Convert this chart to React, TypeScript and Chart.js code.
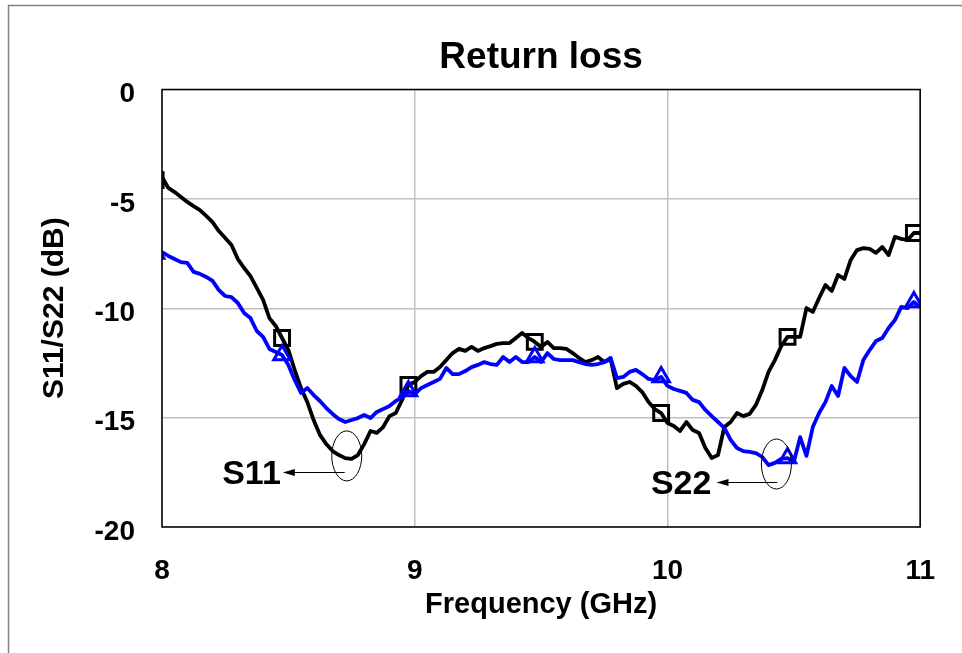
import { useEffect, useRef } from "react";
import { Chart, registerables } from "chart.js";

Chart.register(...registerables);

// Frequency sweep (GHz); first point lies just left of the axis and is clipped
const FREQ_GHZ = [
  7.975, 8.0, 8.025, 8.05, 8.075, 8.1, 8.125, 8.15, 8.175, 8.2,
  8.225, 8.25, 8.275, 8.3, 8.325, 8.35, 8.375, 8.4, 8.425, 8.45,
  8.475, 8.5, 8.525, 8.55, 8.575, 8.6, 8.625, 8.65, 8.675, 8.7,
  8.725, 8.75, 8.775, 8.8, 8.825, 8.85, 8.875, 8.9, 8.925, 8.95,
  8.975, 9.0, 9.025, 9.05, 9.075, 9.1, 9.125, 9.15, 9.175, 9.2,
  9.225, 9.25, 9.275, 9.3, 9.325, 9.35, 9.375, 9.4, 9.425, 9.45,
  9.475, 9.5, 9.525, 9.55, 9.575, 9.6, 9.625, 9.65, 9.675, 9.7,
  9.725, 9.75, 9.775, 9.8, 9.825, 9.85, 9.875, 9.9, 9.925, 9.95,
  9.975, 10.0, 10.025, 10.05, 10.075, 10.1, 10.125, 10.15, 10.175, 10.2,
  10.225, 10.25, 10.275, 10.3, 10.325, 10.35, 10.375, 10.4, 10.425, 10.45,
  10.475, 10.5, 10.525, 10.55, 10.575, 10.6, 10.625, 10.65, 10.675, 10.7,
  10.725, 10.75, 10.775, 10.8, 10.825, 10.85, 10.875, 10.9, 10.925, 10.95,
  10.975, 11.0,
];

const S11_DB = [
  -4.14,
  -4.0, -4.5, -4.69, -4.91, -5.14, -5.33, -5.51, -5.78, -6.06, -6.47,
  -6.79, -7.11, -7.75, -8.16, -8.53, -9.07, -9.62, -10.45, -10.81, -11.36,
  -11.91, -12.82, -13.65, -14.29, -15.11, -15.79, -16.21, -16.53, -16.71, -16.85,
  -16.89, -16.71, -16.21, -15.61, -15.7, -15.43, -14.93, -14.79, -14.19, -13.51,
  -13.37, -13.1, -12.91, -12.91, -12.69, -12.37, -12.05, -11.86, -11.95, -11.77,
  -11.95, -11.82, -11.73, -11.63, -11.59, -11.59, -11.36, -11.13, -11.36, -11.54,
  -11.77, -11.54, -11.82, -11.82, -11.86, -12.05, -12.27, -12.46, -12.37, -12.23,
  -12.46, -12.32, -13.65, -13.46, -13.37, -13.55, -13.83, -14.29, -14.61, -14.79,
  -15.25, -15.38, -15.61, -15.2, -15.57, -15.7, -16.39, -16.85, -16.71, -15.43,
  -15.2, -14.79, -14.93, -14.83, -14.42, -13.74, -12.91, -12.37, -11.73, -11.31,
  -11.31, -11.31, -9.99, -10.17, -9.53, -8.94, -9.21, -8.48, -8.66, -7.79,
  -7.34, -7.25, -7.29, -7.47, -7.2, -7.57, -6.74, -6.83, -6.88, -6.56,
  -6.56,
];

const S22_DB = [
  -7.5,
  -7.43, -7.61, -7.75, -7.89, -7.93, -8.34, -8.43, -8.57, -8.75, -9.17,
  -9.44, -9.49, -9.76, -10.22, -10.45, -11.04, -11.31, -11.86, -12.0, -12.14,
  -12.59, -13.28, -13.87, -13.65, -13.97, -14.24, -14.56, -14.83, -15.06, -15.2,
  -15.11, -15.02, -14.88, -15.02, -14.74, -14.61, -14.47, -14.24, -14.06, -13.78,
  -13.92, -13.65, -13.51, -13.37, -13.23, -12.73, -13.01, -13.01, -12.87, -12.69,
  -12.59, -12.46, -12.55, -12.59, -12.23, -12.46, -12.23, -12.46, -12.46, -12.23,
  -12.46, -12.05, -12.32, -12.37, -12.37, -12.37, -12.46, -12.55, -12.59, -12.55,
  -12.46, -12.27, -13.19, -13.14, -12.91, -12.82, -13.01, -13.23, -13.28, -13.14,
  -13.55, -13.69, -13.78, -13.87, -14.19, -14.29, -14.65, -14.93, -15.2, -15.47,
  -16.02, -16.39, -16.53, -16.57, -16.62, -16.8, -17.17, -17.07, -16.89, -16.85,
  -17.03, -15.89, -16.75, -15.43, -14.79, -14.29, -13.55, -14.01, -12.73, -13.1,
  -13.37, -12.37, -11.91, -11.5, -11.36, -10.9, -10.54, -9.94, -9.99, -9.71,
  -9.94,
];

const MARKER_FREQS = [7.975, 8.475, 8.975, 9.475, 9.975, 10.475, 10.975];

const X_MIN = 8;
const X_MAX = 11;
const X_STEP = 1;
const Y_MIN = -20;
const Y_MAX = 0;
const Y_STEP = 5;

const TITLE = "Return loss";
const X_TITLE = "Frequency (GHz)";
const Y_TITLE = "S11/S22 (dB)";

// Callout annotations in data coordinates
const CALLOUTS = [
  { label: "S11", ellipseX: 8.731, ellipseY: -16.75, arrowFrom: 8.723, arrowTo: 8.478, arrowY: -17.49, textX: 8.47, textY: -17.62 },
  { label: "S22", ellipseX: 10.431, ellipseY: -17.12, arrowFrom: 10.435, arrowTo: 10.194, arrowY: -17.94, textX: 10.174, textY: -18.06 },
];

const FONT = "'Liberation Sans', Arial, Helvetica, sans-serif";

const isMarker = (i: number) =>
  MARKER_FREQS.some((f) => Math.abs(f - FREQ_GHZ[i]) < 1e-6);

const framePlugin = {
  id: "frame",
  beforeDraw(chart: any) {
    const { ctx, width, height } = chart;
    ctx.save();
    ctx.fillStyle = "#ffffff";
    ctx.fillRect(0, 0, width, height);
    ctx.strokeStyle = "#808080";
    ctx.lineWidth = 1.5;
    ctx.beginPath();
    ctx.moveTo(8.5, height);
    ctx.lineTo(8.5, 5.5);
    ctx.lineTo(width, 5.5);
    ctx.stroke();
    ctx.restore();
  },
  afterDraw(chart: any) {
    const { ctx, chartArea } = chart;
    const xs = chart.scales.x;
    const ys = chart.scales.y;
    ctx.save();
    ctx.strokeStyle = "#000000";
    ctx.lineWidth = 1.5;
    ctx.strokeRect(chartArea.left, chartArea.top, chartArea.right - chartArea.left, chartArea.bottom - chartArea.top);

    CALLOUTS.forEach((c) => {
      const ex = xs.getPixelForValue(c.ellipseX);
      const ey = ys.getPixelForValue(c.ellipseY);
      ctx.lineWidth = 1;
      ctx.strokeStyle = "#000";
      ctx.beginPath();
      ctx.ellipse(ex, ey, 15, 25, 0, 0, Math.PI * 2);
      ctx.stroke();

      const a0 = xs.getPixelForValue(c.arrowFrom);
      const a1 = xs.getPixelForValue(c.arrowTo);
      const ay = Math.round(ys.getPixelForValue(c.arrowY)) + 0.5;
      ctx.beginPath();
      ctx.moveTo(a0, ay);
      ctx.lineTo(a1 + 8, ay);
      ctx.stroke();
      ctx.fillStyle = "#000";
      ctx.beginPath();
      ctx.moveTo(a1, ay);
      ctx.lineTo(a1 + 12, ay - 3.5);
      ctx.lineTo(a1 + 12, ay + 3.5);
      ctx.closePath();
      ctx.fill();

      ctx.font = `bold 34px ${FONT}`;
      ctx.textAlign = "right";
      ctx.textBaseline = "middle";
      ctx.fillText(c.label, xs.getPixelForValue(c.textX), ys.getPixelForValue(c.textY));
    });
    ctx.restore();
  },
};

export default function App() {
  const ref = useRef<HTMLCanvasElement | null>(null);

  useEffect(() => {
    if (!ref.current) return;
    const s11 = FREQ_GHZ.map((f, i) => ({ x: f, y: S11_DB[i] }));
    const s22 = FREQ_GHZ.map((f, i) => ({ x: f, y: S22_DB[i] }));
    const chart = new Chart(ref.current, {
      type: "line",
      data: {
        datasets: [
          {
            label: "S22",
            data: s22,
            borderColor: "#0000ff",
            borderWidth: 3.8,
            tension: 0,
            borderJoinStyle: "round",
            pointStyle: "triangle",
            pointRadius: (ctx: any) => (isMarker(ctx.dataIndex) ? 9.5 : 0),
            pointBorderWidth: 3,
            pointBorderColor: "#0000ff",
            pointBackgroundColor: "rgba(0,0,0,0)",
            clip: 0,
          } as any,
          {
            label: "S11",
            data: s11,
            borderColor: "#000000",
            borderWidth: 3.8,
            tension: 0,
            borderJoinStyle: "round",
            pointStyle: "rect",
            pointRadius: (ctx: any) => (isMarker(ctx.dataIndex) ? 10.5 : 0),
            pointBorderWidth: 3,
            pointBorderColor: "#000000",
            pointBackgroundColor: "rgba(0,0,0,0)",
            clip: 0,
          } as any,
        ],
      },
      options: {
        responsive: false,
        animation: false,
        devicePixelRatio: 1,
        events: [],
        layout: { padding: { left: 0, right: 41, top: 0, bottom: 0 } },
        plugins: {
          legend: { display: false },
          tooltip: { enabled: false },
          title: {
            display: true,
            text: TITLE,
            color: "#000",
            fullSize: false,
            font: { family: FONT, size: 37, weight: "bold" },
            padding: { top: 35.7, bottom: 9.4 },
          },
        },
        scales: {
          x: {
            type: "linear",
            min: X_MIN,
            max: X_MAX,
            ticks: {
              stepSize: X_STEP,
              color: "#000",
              padding: 27,
              font: { family: FONT, size: 28, weight: "bold" },
            },
            grid: { color: "#c0c0c0", lineWidth: 1.5, drawTicks: false },
            border: { display: false },
            title: {
              display: true,
              text: X_TITLE,
              color: "#000",
              font: { family: FONT, size: 29, weight: "bold" },
              padding: { top: 0, bottom: 31 },
            },
            afterFit: (scale: any) => {
              scale.height = 126;
            },
          },
          y: {
            type: "linear",
            min: Y_MIN,
            max: Y_MAX,
            ticks: {
              stepSize: Y_STEP,
              color: "#000",
              padding: 27,
              // blank first line nudges the label a few pixels below its gridline
              callback: (v: any) => ["", String(v)],
              font: { family: FONT, size: 28, weight: "bold", lineHeight: "10px" },
            },
            grid: { color: "#c0c0c0", lineWidth: 1.5, drawTicks: false },
            border: { display: false },
            title: {
              display: true,
              text: Y_TITLE,
              color: "#000",
              font: { family: FONT, size: 30, weight: "bold" },
              padding: { top: 37, bottom: 0 },
            },
            afterFit: (scale: any) => {
              scale.width = 162;
            },
          },
        },
      } as any,
      plugins: [framePlugin],
    });
    return () => chart.destroy();
  }, []);

  return (
    <div style={{ position: "absolute", left: 0, top: 0, width: 962, height: 653 }}>
      <canvas ref={ref} width={962} height={653} style={{ display: "block" }} />
    </div>
  );
}
